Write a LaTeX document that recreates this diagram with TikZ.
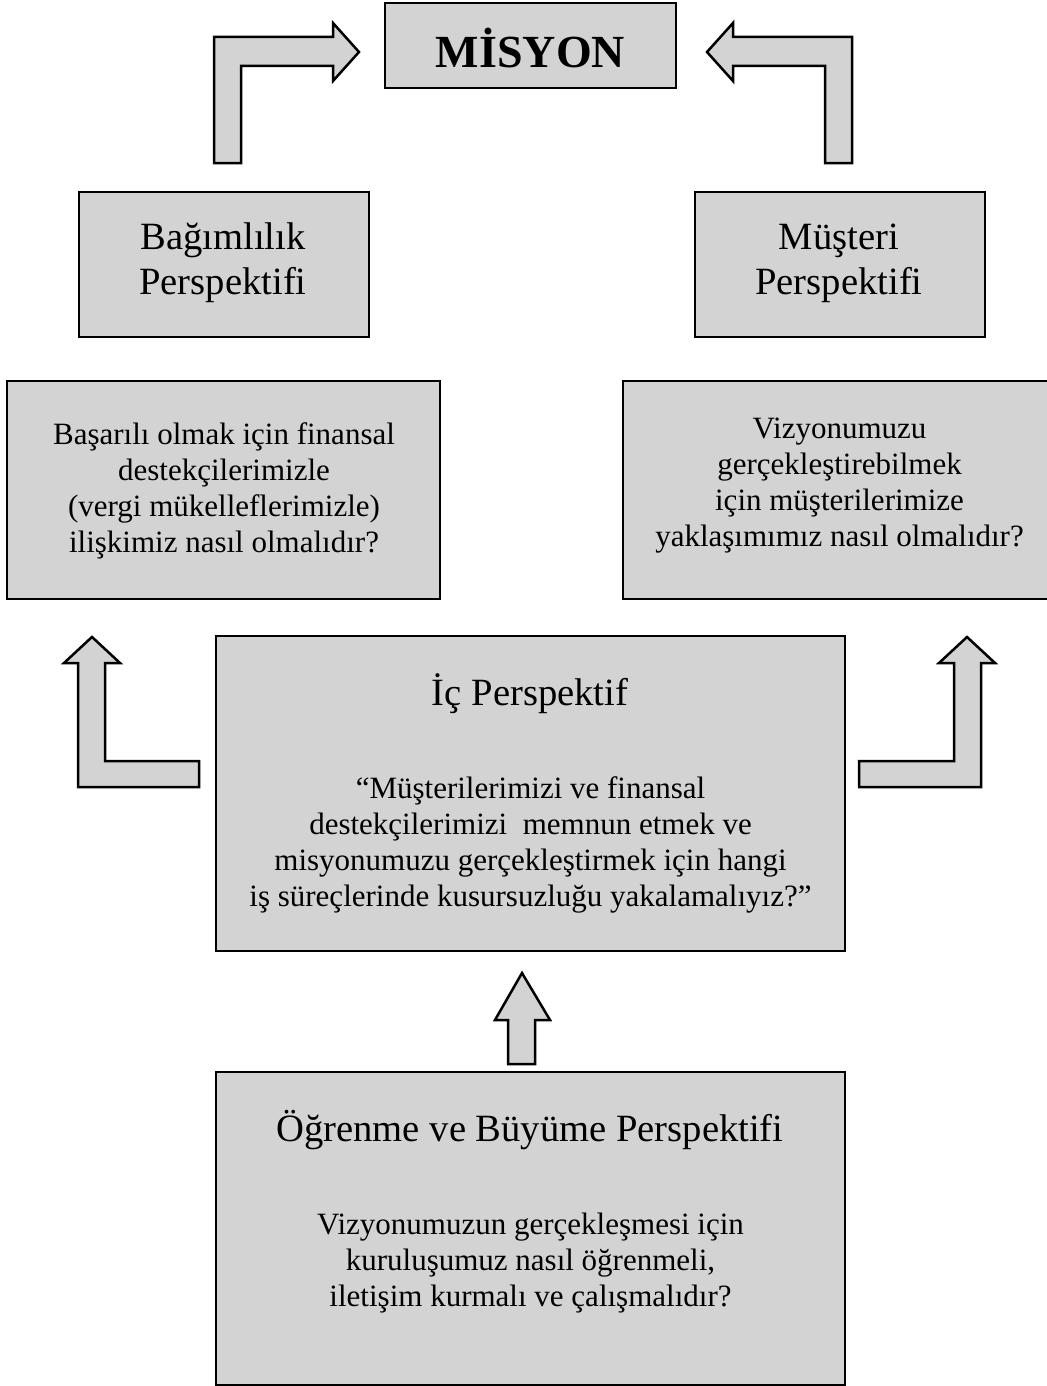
\documentclass[tikz,border=0pt]{standalone}
\usepackage{fontspec}
\setmainfont{Liberation Serif}
\definecolor{boxgray}{RGB}{211,211,211}
\tikzset{
  panel/.style={draw=black, fill=boxgray, line width=1.25pt, rectangle, inner sep=0pt},
  blockarrow/.style={draw=black, fill=boxgray, line width=1.25pt, line join=miter},
  titletext/.style={align=center, font=\fontsize{19.3}{22.5}\selectfont, inner sep=0pt},
  bodytext/.style={align=center, font=\fontsize{15.5}{18}\selectfont, inner sep=0pt},
}
\begin{document}
\begin{tikzpicture}[x=0.5pt, y=-0.5pt]
\useasboundingbox (0,0) rectangle (1047,1386);

% panels
\node[panel, minimum width=145.5pt, minimum height=42.5pt] (misyon) at (530.5,45.5) {};
\node[panel, minimum width=145pt, minimum height=72.5pt] (bag) at (224,264.5) {};
\node[panel, minimum width=145pt, minimum height=72.5pt] (mus) at (840,264.5) {};
\node[panel, minimum width=216.5pt, minimum height=109pt] (qleft) at (223.5,490) {};
\node[panel, minimum width=216pt, minimum height=109pt] (qright) at (839,490) {};
\node[panel, minimum width=314.5pt, minimum height=157.5pt] (ic) at (530.5,793.5) {};
\node[panel, minimum width=314.5pt, minimum height=156.5pt] (og) at (530.5,1228.5) {};

% texts
\node[inner sep=0pt, font=\fontsize{23}{26}\selectfont\bfseries] (misyonT) at (530.5,48) {MİSYON};
\node[titletext] (bagT) at (223,263) {Bağımlılık\\Perspektifi};
\node[titletext] (musT) at (839,263) {Müşteri\\Perspektifi};
\node[bodytext] (qleftT) at (224,491) {Başarılı olmak için finansal\\destekçilerimizle\\(vergi mükelleflerimizle)\\ilişkimiz nasıl olmalıdır?};
\node[bodytext] (qrightT) at (839.5,486) {Vizyonumuzu\\gerçekleştirebilmek\\için müşterilerimize\\yaklaşımımız nasıl olmalıdır?};
\node[titletext] (icT) at (530,694) {İç Perspektif};
\node[bodytext] (icB) at (530.5,845) {“Müşterilerimizi ve finansal\\destekçilerimizi\ \ memnun etmek ve\\misyonumuzu gerçekleştirmek için hangi\\iş süreçlerinde kusursuzluğu yakalamalıyız?”};
\node[titletext] (ogT) at (530,1130) {Öğrenme ve Büyüme Perspektifi};
\node[bodytext] (ogB) at (530.5,1263) {Vizyonumuzun gerçekleşmesi için\\kuruluşumuz nasıl öğrenmeli,\\iletişim kurmalı ve çalışmalıdır?};

% bent block arrows towards the mission
\draw[blockarrow] (214,163) -- (214,37) -- (333,37) -- (333,23) -- (359,52)
  -- (333,81) -- (333,66) -- (241,66) -- (241,163) -- cycle;
\draw[blockarrow] (852,163) -- (852,37) -- (733,37) -- (733,23) -- (707,52)
  -- (733,81) -- (733,66) -- (825,66) -- (825,163) -- cycle;

% bent block arrows from the internal perspective
\draw[blockarrow] (199,787) -- (78,787) -- (78,663) -- (64,663) -- (92,637)
  -- (120,663) -- (105,663) -- (105,761) -- (199,761) -- cycle;
\draw[blockarrow] (859,787) -- (981,787) -- (981,663) -- (995,663) -- (967,637)
  -- (939,663) -- (954,663) -- (954,761) -- (859,761) -- cycle;

% straight block arrow from learning and growth
\draw[blockarrow] (508,1064) -- (508,1020) -- (495,1020) -- (522,973)
  -- (550,1020) -- (535,1020) -- (535,1064) -- cycle;
\end{tikzpicture}
\end{document}
